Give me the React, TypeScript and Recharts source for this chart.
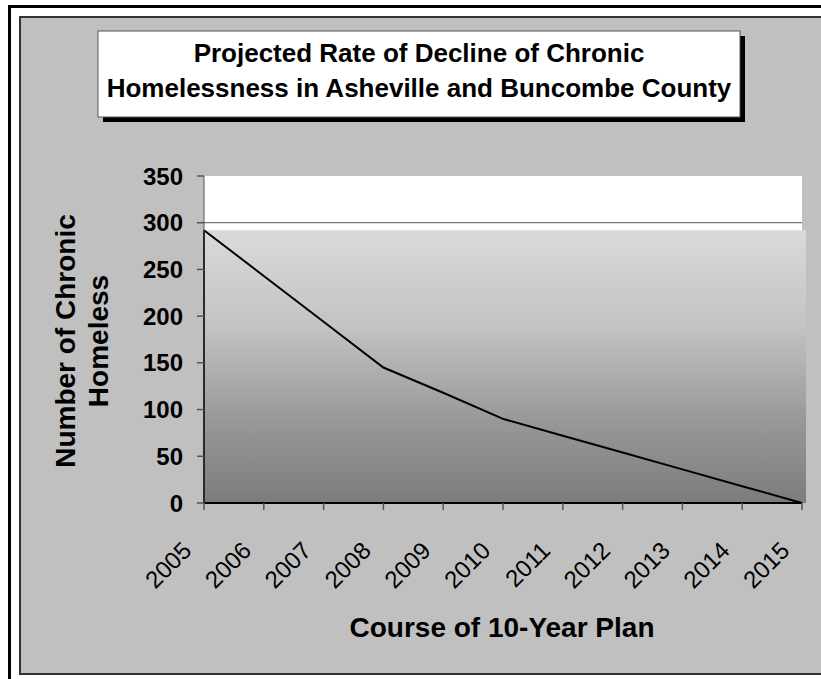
import React from 'react';
import { LineChart, Line, XAxis, YAxis, CartesianGrid, ReferenceArea } from 'recharts';

// Projected count of chronically homeless people, one value per plan year
const years = ['2005', '2006', '2007', '2008', '2009', '2010', '2011', '2012', '2013', '2014', '2015'];
const homelessCounts = [292, 243, 194, 145, 118, 90, 72, 54, 36, 18, 0];
const yTicks = [0, 50, 100, 150, 200, 250, 300, 350];
const gridValues = [300];

const data = years.map((year, i) => ({ year, count: homelessCounts[i] }));
const bandTop = homelessCounts[0];

const FONT = '"Liberation Sans", Arial, sans-serif';

// shaded band under the starting level, with a black left edge
const BandShape = (props: any) => {
  const { x, y, width, height } = props;
  return (
    <g>
      <rect x={x} y={y} width={width + 4} height={height} fill="url(#bandFill)" />
      <line x1={x} y1={y} x2={x} y2={y + height} stroke="#000" strokeWidth={2} />
    </g>
  );
};

const YearTick = (props: any) => {
  const { x, y, payload } = props;
  const tx = x - 11;
  const ty = y + 42;
  return (
    <text
      x={tx}
      y={ty}
      transform={`rotate(-45, ${tx}, ${ty})`}
      textAnchor="end"
      fontSize={24}
      fontFamily={FONT}
      fill="#000"
    >
      {payload.value}
    </text>
  );
};

export default function App() {
  return (
    <div style={{ position: 'absolute', left: 0, top: 0, width: 821, height: 679, overflow: 'hidden', background: '#fff' }}>
      {/* outer black frame */}
      <div style={{ position: 'absolute', left: 8, top: 5, width: 900, height: 720, border: '3px solid #000', background: '#fff', boxSizing: 'border-box' }} />
      {/* grey chart area */}
      <div style={{ position: 'absolute', left: 19, top: 16, width: 900, height: 659, border: '2px solid #333', background: '#c0c0c0', boxSizing: 'border-box' }} />

      <div style={{ position: 'absolute', left: 0, top: 0 }}>
        <LineChart width={821} height={679} data={data} margin={{ top: 176, right: 19, bottom: 76, left: 144 }}>
          <defs>
            <linearGradient id="bandFill" x1="0" y1="0" x2="0" y2="1">
              <stop offset="0%" stopColor="#dadada" />
              <stop offset="35%" stopColor="#c3c3c3" />
              <stop offset="70%" stopColor="#989898" />
              <stop offset="100%" stopColor="#7c7c7c" />
            </linearGradient>
          </defs>
          <CartesianGrid vertical={false} horizontalValues={gridValues} stroke="#555" fill="#fff" fillOpacity={1} />
          <ReferenceArea x1={years[0]} x2={years[years.length - 1]} y1={0} y2={bandTop} shape={BandShape} />
          <XAxis
            dataKey="year"
            height={100}
            axisLine={{ stroke: '#000', strokeWidth: 2 }}
            tickLine={{ stroke: '#555', strokeWidth: 1.5 }}
            tickSize={7}
            tickMargin={0}
            interval={0}
            tick={<YearTick />}
          />
          <YAxis
            width={60}
            domain={[0, 350]}
            ticks={yTicks}
            axisLine={{ stroke: '#555', strokeWidth: 1 }}
            tickLine={{ stroke: '#555', strokeWidth: 1.5 }}
            tickSize={7}
            tickMargin={14}
            tick={{ fontSize: 24, fontWeight: 'bold', fill: '#000', fontFamily: FONT }}
          />
          <Line type="linear" dataKey="count" stroke="#000" strokeWidth={2} dot={false} isAnimationActive={false} />
        </LineChart>
      </div>

      {/* title box and axis titles */}
      <svg width={821} height={679} style={{ position: 'absolute', left: 0, top: 0, pointerEvents: 'none' }}>
        <rect x={103} y={36} width={642} height={86} fill="#000" />
        <rect x={98} y={31} width={642} height={86} fill="#fff" stroke="#555" strokeWidth={1} />
        <text x={419} y={62} textAnchor="middle" fontSize={26} fontWeight="bold" fontFamily={FONT} fill="#000">
          Projected Rate of Decline of Chronic
        </text>
        <text x={419} y={97} textAnchor="middle" fontSize={26} fontWeight="bold" fontFamily={FONT} fill="#000">
          Homelessness in Asheville and Buncombe County
        </text>
        <g transform="rotate(-90, 75, 341)">
          <text x={75} y={341} textAnchor="middle" fontSize={28} fontWeight="bold" fontFamily={FONT} fill="#000">
            Number of Chronic
          </text>
        </g>
        <g transform="rotate(-90, 108, 341)">
          <text x={108} y={341} textAnchor="middle" fontSize={28} fontWeight="bold" fontFamily={FONT} fill="#000">
            Homeless
          </text>
        </g>
        <text x={502} y={637} textAnchor="middle" fontSize={28} fontWeight="bold" fontFamily={FONT} fill="#000">
          Course of 10-Year Plan
        </text>
      </svg>
    </div>
  );
}
